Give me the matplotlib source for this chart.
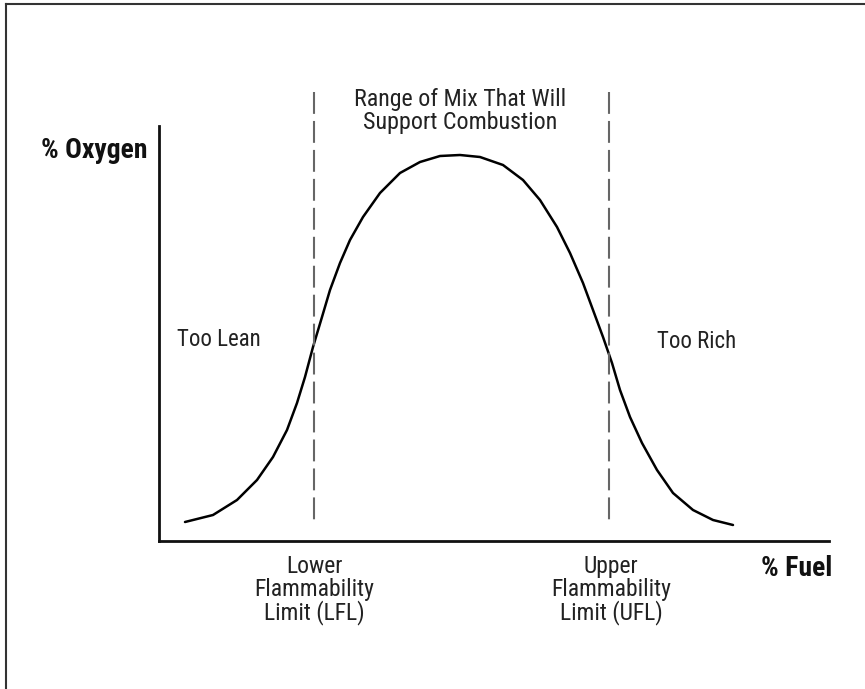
import matplotlib.pyplot as plt
from matplotlib.lines import Line2D

plt.rcParams['font.family'] = ['Roboto Condensed', 'DejaVu Sans']

# flammability curve (arbitrary units)
fuel = [26, 54, 78, 98, 114, 128, 138, 146, 154, 163, 171, 181, 191, 204,
        221, 241, 261, 281, 301, 321, 344, 364, 381, 398, 411, 424, 434, 444,
        453, 461, 471, 483, 498, 514, 534, 554, 574]
oxygen = [19, 26, 41, 61, 84, 111, 138, 164, 194, 224, 251, 278, 301, 324,
          348, 368, 379, 385, 386, 384, 376, 361, 341, 314, 288, 258, 231, 204,
          178, 151, 124, 98, 71, 48, 31, 21, 16]

lfl = 155
ufl = 450
limit_top = 449
limit_bottom = 15

lower_label = "Lower\nFlammability\nLimit (LFL)"
upper_label = "Upper\nFlammability\nLimit (UFL)"
range_label = "Range of Mix That Will\nSupport Combustion"

W, H = 865, 689
fig = plt.figure(figsize=(W / 100, H / 100), dpi=100)
ax = fig.add_axes([159 / W, (H - 541) / H, (829 - 159) / W, (541 - 126) / H])
ax.set_xlim(0, 670)
ax.set_ylim(0, 415)

ax.plot(fuel, oxygen, color='black', lw=1.8, solid_joinstyle='round',
        solid_capstyle='round')

for x in (lfl, ufl):
    ax.plot([x, x], [limit_top, limit_bottom], color='#666666', lw=1.5,
            dashes=(10.5, 3.4), clip_on=False)

for s in ('top', 'right'):
    ax.spines[s].set_visible(False)
for s in ('left', 'bottom'):
    ax.spines[s].set_linewidth(2)
    ax.spines[s].set_color('#111111')
ax.set_xticks([])
ax.set_yticks([])

txt = dict(color='#222222', ha='center', va='center', clip_on=False)
ax.text(301, 430, range_label, fontsize=17.3, linespacing=1.05, **txt)
ax.text(lfl, -49, lower_label, fontsize=17, linespacing=1.0, **txt)
ax.text(ufl + 2, -49, upper_label, fontsize=17, linespacing=1.0, **txt)
ax.text(59.5, 201, "Too Lean", fontsize=16.5, **txt)
ax.text(538, 200, "Too Rich", fontsize=16.5, **txt)

bold = dict(color='#111111', fontsize=20, fontweight='bold', ha='center',
            va='center', clip_on=False)
ax.text(-65, 391, "% Oxygen", **bold)
ax.text(638, -27, "% Fuel", **bold)

# frame lines along the left and top edges
fig.add_artist(Line2D([6 / W, 6 / W], [0, 1 - 4 / H], color='#333333', lw=1.5,
                      transform=fig.transFigure))
fig.add_artist(Line2D([6 / W, 1], [1 - 4 / H, 1 - 4 / H], color='#333333',
                      lw=1.5, transform=fig.transFigure))

fig.savefig('out.png', dpi=100)
